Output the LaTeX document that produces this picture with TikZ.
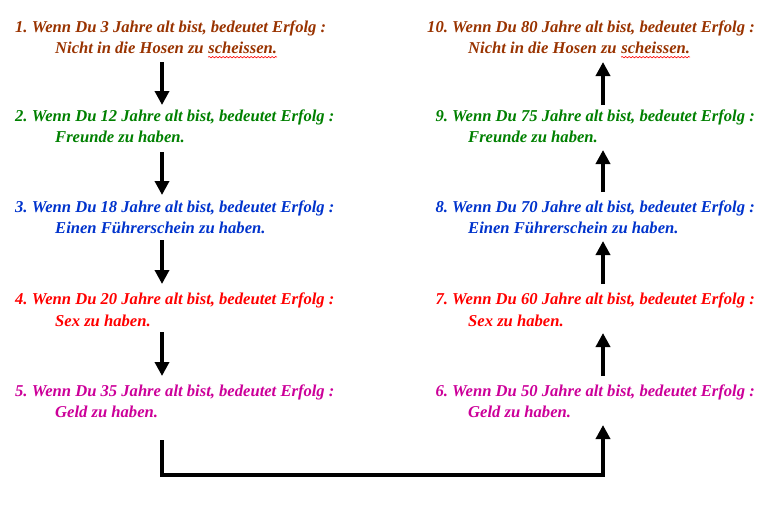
\documentclass[tikz,border=0pt]{standalone}
\usepackage{fontspec}
\setmainfont{Liberation Serif}
\usetikzlibrary{arrows.meta,decorations.pathmorphing}
\frenchspacing
\definecolor{cbrown}{HTML}{993300}
\definecolor{cgreen}{HTML}{008000}
\definecolor{cblue}{HTML}{0033CC}
\definecolor{cred}{HTML}{FF0000}
\definecolor{cmag}{HTML}{CC0099}
\tikzset{
  txt/.style={anchor=west, inner sep=0pt, font=\fontsize{16.6}{19}\selectfont\bfseries\itshape},
  arr/.style={line width=4.5pt, -{Triangle[width=14pt,length=14pt]}},
  conn/.style={line width=4.5pt},
  wavy/.style={draw=red, line width=0.6pt, decorate, decoration={snake, amplitude=0.7pt, segment length=3.5pt}}
}
\begin{document}
\begin{tikzpicture}[x=1pt,y=-1pt]
\useasboundingbox (0,0) rectangle (773,504);
% left column
\node[txt, text=cbrown] (l1a) at (15,28) {1. Wenn Du 3 Jahre alt bist, bedeutet Erfolg :};
\node[txt, text=cbrown] (l1b) at (55,48) {Nicht in die Hosen zu};
\node[txt, text=cbrown, anchor=base west, xshift=4.2pt] (l1c) at (l1b.base east) {scheissen.};
\node[txt, text=cgreen] (l2a) at (15,117) {2. Wenn Du 12 Jahre alt bist, bedeutet Erfolg :};
\node[txt, text=cgreen] (l2b) at (55,137) {Freunde zu haben.};
\node[txt, text=cblue] (l3a) at (15,208) {3. Wenn Du 18 Jahre alt bist, bedeutet Erfolg :};
\node[txt, text=cblue] (l3b) at (55,228) {Einen Führerschein zu haben.};
\node[txt, text=cred] (l4a) at (15,300) {4. Wenn Du 20 Jahre alt bist, bedeutet Erfolg :};
\node[txt, text=cred] (l4b) at (55,321) {Sex zu haben.};
\node[txt, text=cmag] (l5a) at (15,392) {5. Wenn Du 35 Jahre alt bist, bedeutet Erfolg :};
\node[txt, text=cmag] (l5b) at (55,412) {Geld zu haben.};
% right column
\node[txt, text=cbrown, anchor=east] (r10a) at (755,28) {10. Wenn Du 80 Jahre alt bist, bedeutet Erfolg :};
\node[txt, text=cbrown] (r10b) at (468,48) {Nicht in die Hosen zu};
\node[txt, text=cbrown, anchor=base west, xshift=4.2pt] (r10c) at (r10b.base east) {scheissen.};
\node[txt, text=cgreen, anchor=east] (r9a) at (755,117) {9. Wenn Du 75 Jahre alt bist, bedeutet Erfolg :};
\node[txt, text=cgreen] (r9b) at (468,137) {Freunde zu haben.};
\node[txt, text=cblue, anchor=east] (r8a) at (755,208) {8. Wenn Du 70 Jahre alt bist, bedeutet Erfolg :};
\node[txt, text=cblue] (r8b) at (468,228) {Einen Führerschein zu haben.};
\node[txt, text=cred, anchor=east] (r7a) at (755,300) {7. Wenn Du 60 Jahre alt bist, bedeutet Erfolg :};
\node[txt, text=cred] (r7b) at (468,321) {Sex zu haben.};
\node[txt, text=cmag, anchor=east] (r6a) at (755,392) {6. Wenn Du 50 Jahre alt bist, bedeutet Erfolg :};
\node[txt, text=cmag] (r6b) at (468,412) {Geld zu haben.};
% spellcheck underlines
\draw[wavy] ([yshift=-3.5pt]l1c.base west) -- ([yshift=-3.5pt]l1c.base east);
\draw[wavy] ([yshift=-3.5pt]r10c.base west) -- ([yshift=-3.5pt]r10c.base east);
% arrow coordinates
\coordinate (a1s) at (162,62);  \coordinate (a1e) at (162,105);
\coordinate (a2s) at (162,152); \coordinate (a2e) at (162,195);
\coordinate (a3s) at (162,240); \coordinate (a3e) at (162,284);
\coordinate (a4s) at (162,332); \coordinate (a4e) at (162,376);
\coordinate (b1s) at (603,105); \coordinate (b1e) at (603,62);
\coordinate (b2s) at (603,192); \coordinate (b2e) at (603,150);
\coordinate (b3s) at (603,284); \coordinate (b3e) at (603,241);
\coordinate (b4s) at (603,376); \coordinate (b4e) at (603,333);
\coordinate (cs) at (162,440);  \coordinate (cm1) at (162,475);
\coordinate (cm2) at (603,475); \coordinate (ce) at (603,425);
\draw[arr] (a1s) -- (a1e);
\draw[arr] (a2s) -- (a2e);
\draw[arr] (a3s) -- (a3e);
\draw[arr] (a4s) -- (a4e);
\draw[arr] (b1s) -- (b1e);
\draw[arr] (b2s) -- (b2e);
\draw[arr] (b3s) -- (b3e);
\draw[arr] (b4s) -- (b4e);
\draw[conn, line join=miter, -{Triangle[width=14pt,length=14pt]}] (cs) -- (cm1) -- (cm2) -- (ce);
\end{tikzpicture}
\end{document}
